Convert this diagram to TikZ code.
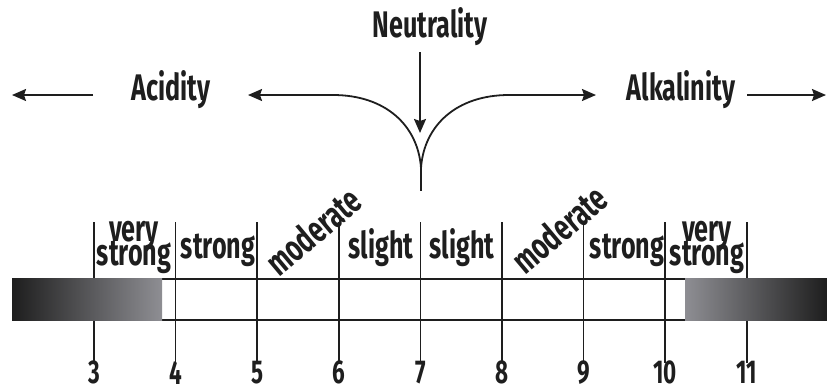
\documentclass[tikz,border=0pt]{standalone}
\usepackage{fontspec}
\setmainfont[FakeStretch=0.68]{Fira Sans}
\usetikzlibrary{arrows.meta}
\definecolor{inkdark}{HTML}{1E1E1E}
\definecolor{inkgrey}{HTML}{8E8E93}
\begin{document}
\lineskiplimit=-40pt
\begin{tikzpicture}[x=1pt,y=-1pt,
  lbl/.style={font=\fontsize{37}{24}\selectfont\bfseries, inner sep=0pt, text=inkdark},
  num/.style={font=\fontsize{33}{33}\selectfont\bfseries, inner sep=0pt, anchor=north, text=inkdark},
  arr/.style={-{Stealth[length=14pt,width=12pt,inset=2pt]}, line width=1.8pt, draw=inkdark},
  tick/.style={line width=1.5pt, draw=inkdark},
  barline/.style={line width=1.5pt, draw=inkdark}]
\useasboundingbox (0,0) rectangle (827,389);
% ticks and numbers
\foreach \n [count=\i from 0] in {3,...,11}{
  \coordinate (tk\n) at ({94+\i*81.6},222);
  \node[num] (num\n) at ({94+\i*81.6},361) {\n};
  \draw[tick] (tk\n) -- ([yshift=-2pt]num\n.north);
}
% bar
\coordinate (barTL) at (12,279);
\coordinate (barTR) at (827,279);
\coordinate (barBL) at (12,320);
\coordinate (barBR) at (827,320);
\draw[barline] (barTL) -- (barTR);
\draw[barline] (barBL) -- (barBR);
\shade[left color=inkdark, right color=inkgrey] (12,278.3) rectangle (162,320.7);
\shade[left color=inkgrey, right color=inkdark] (685,278.3) rectangle (827,320.7);
% scale labels
\node[lbl, anchor=south, text depth=0pt, align=center] (vs1) at (134,266) {very\\strong};
\node[lbl, anchor=base] (s1) at (218,258) {strong};
\node[lbl, rotate=40] (m1) at (313,231) {moderate};
\node[lbl, anchor=base] (sl1) at (381,258) {slight};
\node[lbl, anchor=base] (sl2) at (462,258) {slight};
\node[lbl, rotate=40] (m2) at (559,229) {moderate};
\node[lbl, anchor=base] (s2) at (627,258) {strong};
\node[lbl, anchor=south, text depth=0pt, align=center] (vs2) at (707,266) {very\\strong};
% top labels
\node[lbl, anchor=base] (neut) at (430,37) {Neutrality};
\node[lbl, anchor=base] (acid) at (171,100) {Acidity};
\node[lbl, anchor=base] (alk) at (681,100) {Alkalinity};
% arrows
\coordinate (la0) at (93,95);
\coordinate (la1) at (12,95);
\coordinate (ra0) at (747,95);
\coordinate (ra1) at (826,95);
\coordinate (na0) at (420,52);
\coordinate (na1) at (420,133);
\coordinate (cusp) at (421,168);
\coordinate (stem) at (421,191);
\coordinate (lh) at (333,95);
\coordinate (lt) at (248,95);
\coordinate (rh) at (509,95);
\coordinate (rt) at (596,95);
\draw[arr] (la0) -- (la1);
\draw[arr] (ra0) -- (ra1);
\draw[arr] (na0) -- (na1);
\draw[arr] (cusp) .. controls (418,125) and (385,95) .. (lh) -- (lt);
\draw[arr] (cusp) .. controls (424,125) and (457,95) .. (rh) -- (rt);
\draw[line width=1.8pt, draw=inkdark] (cusp) -- (stem);
\end{tikzpicture}
\end{document}
